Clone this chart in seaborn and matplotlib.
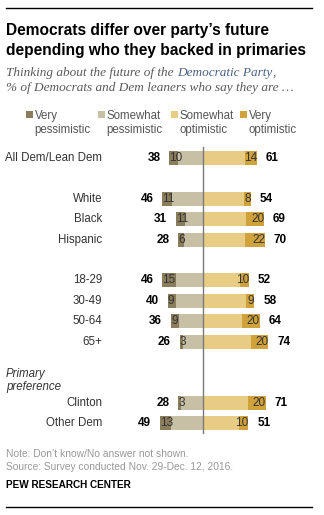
import matplotlib
matplotlib.use("Agg")
import matplotlib.pyplot as plt
import seaborn as sns
import pandas as pd

# ---- data ----
groups = ["All Dem/Lean Dem", "White", "Black", "Hispanic",
          "18-29", "30-49", "50-64", "65+", "Clinton", "Other Dem"]
# row slots (blank slots separate the sections)
rows = [0, 2, 3, 4, 6, 7, 8, 9, 12, 13]
pessimistic_total = [38, 46, 31, 28, 46, 40, 36, 26, 28, 49]
very_pessimistic = [10, 11, 11, 6, 15, 9, 9, 3, 3, 13]
optimistic_total = [61, 54, 69, 70, 52, 58, 64, 74, 71, 51]
very_optimistic = [14, 8, 20, 22, 10, 9, 20, 20, 20, 10]
legend_labels = ["Very\npessimistic", "Somewhat\npessimistic",
                 "Somewhat\noptimistic", "Very\noptimistic"]

C_VP = "#8a7d5b"
C_SP = "#c8c0a4"
C_SO = "#e8cc84"
C_VO = "#cfa23c"

df = pd.DataFrame({
    "group": groups, "row": rows,
    "pess": pessimistic_total, "vpess": very_pessimistic,
    "opt": optimistic_total, "vopt": very_optimistic,
})
df["neg_pess"] = -df["pess"]
df["neg_spess"] = -(df["pess"] - df["vpess"])
df["sopt"] = df["opt"] - df["vopt"]

W, H = 324, 515
fig = plt.figure(figsize=(W / 100, H / 100), dpi=100)
ax = fig.add_axes([0, 0, 1, 1])

SANS = "Liberation Sans"
TXT = "#333333"

bar_h = 0.68
# full bars in the "very" colours, then the "somewhat" part laid over the inner end
sns.barplot(data=df, x="neg_pess", y="row", orient="h", native_scale=True,
            color=C_VP, width=bar_h, errorbar=None, saturation=1, ax=ax)
sns.barplot(data=df, x="neg_spess", y="row", orient="h", native_scale=True,
            color=C_SP, width=bar_h, errorbar=None, saturation=1, ax=ax)
sns.barplot(data=df, x="opt", y="row", orient="h", native_scale=True,
            color=C_VO, width=bar_h, errorbar=None, saturation=1, ax=ax)
sns.barplot(data=df, x="sopt", y="row", orient="h", native_scale=True,
            color=C_SO, width=bar_h, errorbar=None, saturation=1, ax=ax)

# map data units to the canvas: zero line at x=203px, 0.885 px per point
px_per_unit = 0.885
x0 = 203
ax.set_xlim(-x0 / px_per_unit, (W - x0) / px_per_unit)
row0_px, row_step = 158, 20.4
ax.set_ylim((H - row0_px) / row_step, -row0_px / row_step)
ax.axis("off")

# zero line
ax.plot([0, 0], [-0.55, 13.5], color="#7a7a7a", lw=1.0, zorder=5)

gap = 9 / px_per_unit
for _, r in df.iterrows():
    y = r["row"]
    # category label
    ax.text((102 - x0) / px_per_unit, y, r["group"], ha="right", va="center",
            fontsize=8.3, color=TXT, family=SANS)
    # very-segment values
    ax.text(-r["pess"], y, f"{r['vpess']}", ha="left", va="center",
            fontsize=8.5, color="#333333", family=SANS, zorder=6)
    ax.text(r["opt"], y, f"{r['vopt']}", ha="right", va="center",
            fontsize=8.5, color="#333333", family=SANS, zorder=6)
    # net totals
    ax.text(-r["pess"] - gap, y, f"{r['pess']}", ha="right", va="center",
            fontsize=8.5, color="black", family=SANS, fontweight="bold")
    ax.text(r["opt"] + gap, y, f"{r['opt']}", ha="left", va="center",
            fontsize=8.5, color="black", family=SANS, fontweight="bold")


def fy(px):
    return 1 - px / H


def fx(px):
    return px / W


# top and bottom rules
fig.add_artist(plt.Line2D([fx(6), fx(312)], [fy(8), fy(8)], color="black", lw=1.0))
fig.add_artist(plt.Line2D([fx(6), fx(312)], [fy(506.5), fy(506.5)], color="black", lw=1.0))

# title
fig.text(fx(6), fy(34.5), "Democrats differ over party\u2019s future",
         fontsize=11.2, fontweight="bold", family=SANS, color="black", va="baseline")
fig.text(fx(6), fy(55), "depending who they backed in primaries",
         fontsize=11.2, fontweight="bold", family=SANS, color="black", va="baseline")

# subtitle, with the party name set off in blue
SERIF = "Liberation Serif"
fig.canvas.draw()
renderer = fig.canvas.get_renderer()
t1 = fig.text(fx(6), fy(76), "Thinking about the future of the ", fontsize=9.5,
              style="italic", family=SERIF, color="#595959", va="baseline")
bb = t1.get_window_extent(renderer)
t2 = fig.text(bb.x1 / W, fy(76), "Democratic Party", fontsize=9.5,
              style="italic", family=SERIF, color="#4a6288", va="baseline")
bb2 = t2.get_window_extent(renderer)
fig.text(bb2.x1 / W, fy(76), ",", fontsize=9.5,
         style="italic", family=SERIF, color="#595959", va="baseline")
fig.text(fx(6), fy(91), "% of Democrats and Dem leaners who say they are \u2026",
         fontsize=9.5, style="italic", family=SERIF, color="#595959", va="baseline")

# legend
leg_sq_x = [26, 98, 171, 240]
leg_colors = [C_VP, C_SP, C_SO, C_VO]
for sx, col, lab in zip(leg_sq_x, leg_colors, legend_labels):
    fig.add_artist(plt.Rectangle((fx(sx), fy(118)), 6.5 / W, 6.5 / H,
                                 color=col, lw=0))
    l1, l2 = lab.split("\n")
    fig.text(fx(sx + 8.5), fy(119), l1, fontsize=8.3, family=SANS,
             color="#555555", va="baseline")
    fig.text(fx(sx + 8.5), fy(133), l2, fontsize=8.3, family=SANS,
             color="#555555", va="baseline")

# section label
fig.text(fx(6), fy(376.5), "Primary", fontsize=8.3, style="italic",
         family=SANS, color=TXT, va="baseline")
fig.text(fx(6), fy(390), "preference", fontsize=8.3, style="italic",
         family=SANS, color=TXT, va="baseline")

# notes
fig.text(fx(6), fy(457), "Note: Don\u2019t know/No answer not shown.",
         fontsize=7.4, family=SANS, color="#999999", va="baseline")
fig.text(fx(6), fy(470), "Source: Survey conducted Nov. 29-Dec. 12, 2016.",
         fontsize=7.4, family=SANS, color="#999999", va="baseline")
fig.text(fx(6), fy(488), "PEW RESEARCH CENTER",
         fontsize=7.2, family=SANS, color="black", fontweight="bold", va="baseline")

fig.savefig("out.png", dpi=100, facecolor="white")
